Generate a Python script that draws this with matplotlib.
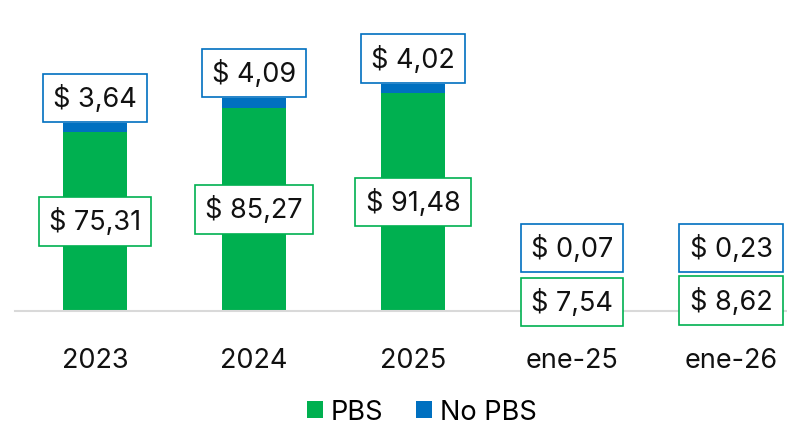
import numpy as np
import matplotlib.pyplot as plt

plt.rcParams['font.family'] = ['Inter', 'DejaVu Sans']

categories = ['2023', '2024', '2025', 'ene-25', 'ene-26']
pbs = [75.31, 85.27, 91.48, 7.54, 8.62]
no_pbs = [3.64, 4.09, 4.02, 0.07, 0.23]

green = '#00B050'
blue = '#0070C0'

fig = plt.figure(figsize=(7.87, 4.27), dpi=100)
ax = fig.add_axes([15 / 787, 115 / 427, 772 / 787, 312 / 427])

x = np.arange(len(categories))
pbs = np.array(pbs)
no_pbs = np.array(no_pbs)

ax.bar(x, pbs, width=0.4, color=green, label='PBS')
ax.bar(x, no_pbs, width=0.4, bottom=pbs, color=blue, label='No PBS')

ax.set_xlim(-0.503, 4.352)
ax.set_ylim(0, 131)

def fmt(v):
    return '$ ' + f'{v:.2f}'.replace('.', ',')

# labels: PBS in the middle of the green part, No PBS above the bar
for i in range(len(x)):
    ax.text(x[i], pbs[i] / 2, fmt(pbs[i]), ha='center', va='center', fontsize=19.5,
            color='#111111',
            bbox=dict(boxstyle='square,pad=0.38', fc='white', ec=green, lw=1.2))
    top = pbs[i] + no_pbs[i]
    ax.text(x[i], max(top + 10.5, 26.5), fmt(no_pbs[i]), ha='center', va='center', fontsize=19.5,
            color='#111111',
            bbox=dict(boxstyle='square,pad=0.38', fc='white', ec=blue, lw=1.2))

for s in ['top', 'right', 'left']:
    ax.spines[s].set_visible(False)
ax.spines['bottom'].set_color('#D9D9D9')
ax.spines['bottom'].set_linewidth(1.5)
ax.set_yticks([])
ax.set_xticks(x)
ax.set_xticklabels(categories, fontsize=19.5, color='#111111')
ax.tick_params(axis='x', length=0, pad=26)

fig.legend(loc='center', bbox_to_anchor=(422 / 787, 14 / 427), ncol=2, frameon=False,
           fontsize=19.5, handlelength=0.6, handleheight=0.6, columnspacing=1.2, handletextpad=0.3)

fig.savefig('out.png', dpi=100)
